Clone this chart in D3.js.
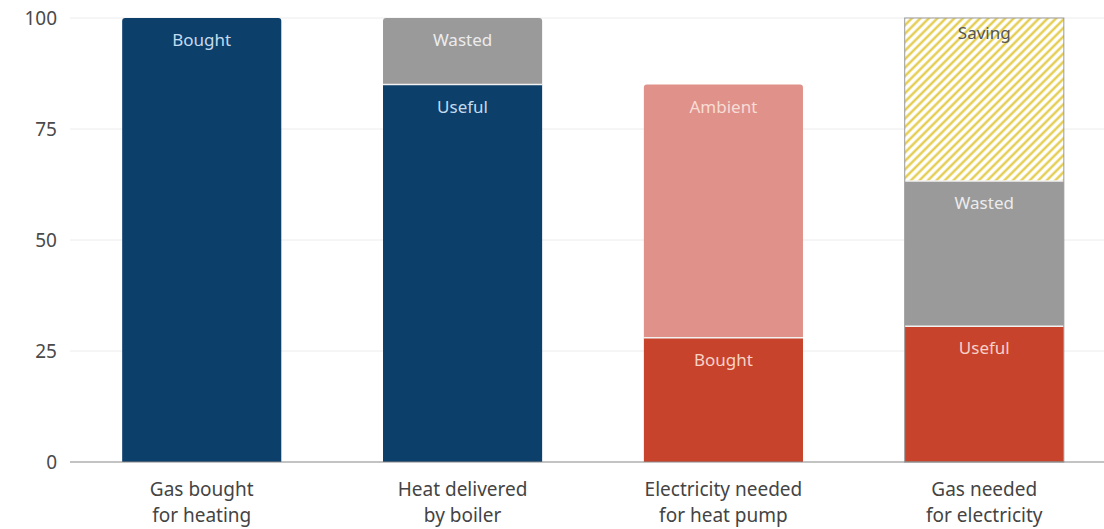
<!DOCTYPE html>
<html>
<head>
<meta charset="utf-8">
<script src="https://cdn.jsdelivr.net/npm/d3@7"></script>
<style>
  body { margin: 0; background: #fff; }
  text { font-family: "Noto Sans", "Open Sans", sans-serif; }
</style>
</head>
<body>
<div id="chart"></div>
<script>
// categories (two-line labels)
const categories = ["gas", "boiler", "pump", "elec"];
const categoryLabels = [
  ["Gas bought", "for heating"],
  ["Heat delivered", "by boiler"],
  ["Electricity needed", "for heat pump"],
  ["Gas needed", "for electricity"]
];
// stacked segments per bar, bottom to top
const segmentNames = [
  ["Bought"],
  ["Useful", "Wasted"],
  ["Bought", "Ambient"],
  ["Useful", "Wasted", "Saving"]
];
const segmentValues = [
  [100],
  [85, 15],
  [28, 57],
  [30.6, 32.7, 36.7]
];
const segmentKinds = [
  ["blue"],
  ["blue", "gray"],
  ["red", "pink"],
  ["red", "gray", "saving"]
];
const yTicks = [0, 25, 50, 75, 100];

const svgWidth = 1104;
const svgHeight = 529;
const margin = { top: 18, right: 0, bottom: 67, left: 70 };
const height = svgHeight - margin.top - margin.bottom;

const fills = { blue: "#0d3f6b", gray: "#9a9a9a", red: "#c8432b", pink: "#e0928a", saving: "url(#hatch)" };
const labelColors = { blue: "#c4dbef", gray: "#ececec", red: "#f6d2c8", pink: "#f7dcd6", saving: "#555" };

const svg = d3.select("#chart")
  .append("svg")
  .attr("width", svgWidth)
  .attr("height", svgHeight);

// hatch for "Saving"
const pat = svg.append("defs").append("pattern")
  .attr("id", "hatch")
  .attr("patternUnits", "userSpaceOnUse")
  .attr("width", 6)
  .attr("height", 6)
  .attr("patternTransform", "rotate(45)");
pat.append("rect").attr("width", 6).attr("height", 6).attr("fill", "#fff");
pat.append("line").attr("x1", 1.5).attr("x2", 1.5).attr("y1", 0).attr("y2", 6)
  .attr("stroke", "#e2c940").attr("stroke-width", 2.2);

const g = svg.append("g").attr("transform", `translate(${margin.left},${margin.top})`);

const x = d3.scaleBand()
  .domain(categories)
  .range([0, 1046])
  .paddingInner(0.39)
  .paddingOuter(0.2);

const y = d3.scaleLinear().domain([0, 100]).range([height, 0]);

// gridlines
g.selectAll(".grid")
  .data(yTicks.filter(d => d > 0))
  .enter().append("line")
  .attr("x1", 0).attr("x2", svgWidth)
  .attr("y1", d => y(d)).attr("y2", d => y(d))
  .attr("stroke", "#ececec").attr("stroke-width", 1);

// y tick labels
g.selectAll(".ylab")
  .data(yTicks)
  .enter().append("text")
  .attr("x", -13)
  .attr("y", d => y(d))
  .attr("dy", "0.35em")
  .attr("text-anchor", "end")
  .attr("font-size", 19)
  .attr("fill", "#4a4a4a")
  .text(d => d);

function topRounded(x0, y0, w, h, r) {
  return `M${x0},${y0 + h}V${y0 + r}Q${x0},${y0} ${x0 + r},${y0}H${x0 + w - r}Q${x0 + w},${y0} ${x0 + w},${y0 + r}V${y0 + h}Z`;
}

categories.forEach((c, i) => {
  const bx = x(c);
  const bw = x.bandwidth();
  let base = 0;
  const vals = segmentValues[i];
  vals.forEach((v, j) => {
    const kind = segmentKinds[i][j];
    const y0 = y(base + v), y1 = y(base);
    const isTop = j === vals.length - 1;
    if (isTop && kind !== "saving") {
      g.append("path").attr("d", topRounded(bx, y0, bw, y1 - y0, 3)).attr("fill", fills[kind]);
    } else {
      g.append("rect").attr("x", bx).attr("y", y0).attr("width", bw).attr("height", y1 - y0)
        .attr("fill", fills[kind]);
    }
    if (j > 0) {
      g.append("line").attr("x1", bx).attr("x2", bx + bw).attr("y1", y1).attr("y2", y1)
        .attr("stroke", "#f2f2f2").attr("stroke-width", 1.5);
    }
    g.append("text")
      .attr("x", bx + bw / 2)
      .attr("y", y0 + (kind === "saving" ? 21 : 28))
      .attr("text-anchor", "middle")
      .attr("font-size", 17)
      .attr("fill", labelColors[kind])
      .text(segmentNames[i][j]);
    base += v;
  });
  if (segmentKinds[i].includes("saving")) {
    g.append("rect").attr("x", bx).attr("y", y(base)).attr("width", bw).attr("height", y(0) - y(base))
      .attr("fill", "none").attr("stroke", "#999").attr("stroke-width", 1);
  }
  // x labels
  const t = g.append("text")
    .attr("x", bx + bw / 2)
    .attr("y", height + 34)
    .attr("text-anchor", "middle")
    .attr("font-size", 19)
    .attr("fill", "#444");
  categoryLabels[i].forEach((line, k) => {
    t.append("tspan").attr("x", bx + bw / 2).attr("dy", k === 0 ? 0 : 26).text(line);
  });
});

// baseline
g.append("line")
  .attr("x1", 0).attr("x2", svgWidth)
  .attr("y1", y(0)).attr("y2", y(0))
  .attr("stroke", "#888").attr("stroke-width", 1.2);
</script>
</body>
</html>
